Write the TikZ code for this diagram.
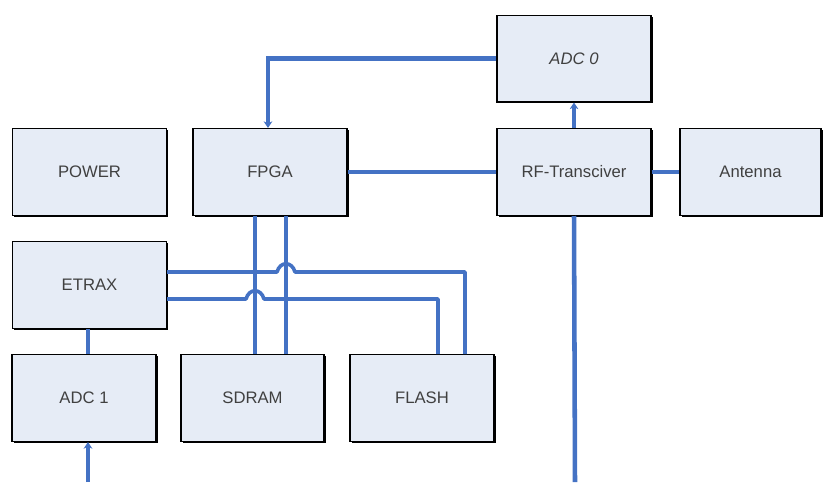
\documentclass[tikz,border=0pt]{standalone}
\usepackage{fontspec}
\setmainfont{Liberation Sans}
\usetikzlibrary{arrows.meta,calc,shadows}
\definecolor{busblue}{RGB}{68,114,196}
\definecolor{boxfill}{RGB}{230,236,246}
\definecolor{boxtext}{RGB}{64,64,64}
\tikzset{
	block/.style={draw=black,line width=1pt,fill=boxfill,
		minimum width=#1*0.75pt,minimum height=65pt,inner sep=0pt,
		text=boxtext,font=\fontsize{12.5}{14}\selectfont,
		drop shadow={shadow xshift=1.2pt,shadow yshift=-1.2pt,
			fill=black,opacity=1}},
	block/.default=154,
	bus/.style={draw=busblue,line width=2.7pt},
	widebus/.style={draw=busblue,line width=3.4pt},
}
\begin{document}
\begin{tikzpicture}[x=0.75pt,y=-0.75pt,>={Stealth[length=5pt,width=6.5pt]}]
	\useasboundingbox (0,0) rectangle (824,482);
	% Khối chức năng
	\node[block] (power) at (89.5,172) {POWER};
	\node[block] (fpga) at (270,172) {FPGA};
	\node[block] (etrax) at (89.5,285) {ETRAX};
	\node[block=144] (adcone) at (84,398) {ADC 1};
	\node[block=143] (sdram) at (252.5,398) {SDRAM};
	\node[block=144] (flash) at (422,398) {FLASH};
	\node[block] (adczero) at (574,58.5) {\itshape ADC 0};
	\node[block] (rf) at (574,172) {RF-Transciver};
	\node[block=141] (antenna) at (750.5,172) {Antenna};
	% Các điểm phụ
	\coordinate (busa) at (255,0);
	\coordinate (busb) at (286,0);
	\coordinate (ya) at (0,272);
	\coordinate (yb) at (0,299);
	\coordinate (fla) at (465,0);
	\coordinate (flb) at (438,0);
	\coordinate (rfout) at (575,482);
	\coordinate (adcin) at (88,482);
	% Đường nối
	\draw[widebus,->] (adczero.west) -| ([xshift=-1.5pt]fpga.north);
	\draw[bus] (fpga.east) -- (rf.west);
	\draw[widebus,->] (rf.north) -- (adczero.south);
	\draw[bus] (rf.east) -- (antenna.west);
	\draw[widebus] (rf.south) -- (rfout);
	\draw[widebus] (etrax.south -| adcin) -- (adcone.north -| adcin);
	\draw[widebus,->] (adcin) -- (adcone.south -| adcin);
	\draw[widebus] (fpga.south -| busa) -- (sdram.north -| busa);
	\draw[bus] (fpga.south -| busb) -- (sdram.north -| busb);
	% Hai đường từ ETRAX sang FLASH, có nhảy qua bus
	\draw[bus,line join=round] (etrax.east |- ya) -- ($(busb |- ya)+(-9,0)$)
		.. controls ($(busb |- ya)+(-6,-11)$) and ($(busb |- ya)+(6,-11)$)
		.. ($(busb |- ya)+(9,0)$) -- (fla |- ya) -- (flash.north -| fla);
	\draw[bus,line join=round] (etrax.east |- yb) -- ($(busa |- yb)+(-9,0)$)
		.. controls ($(busa |- yb)+(-6,-11)$) and ($(busa |- yb)+(6,-11)$)
		.. ($(busa |- yb)+(9,0)$) -- (flb |- yb) -- (flash.north -| flb);
\end{tikzpicture}
\end{document}
